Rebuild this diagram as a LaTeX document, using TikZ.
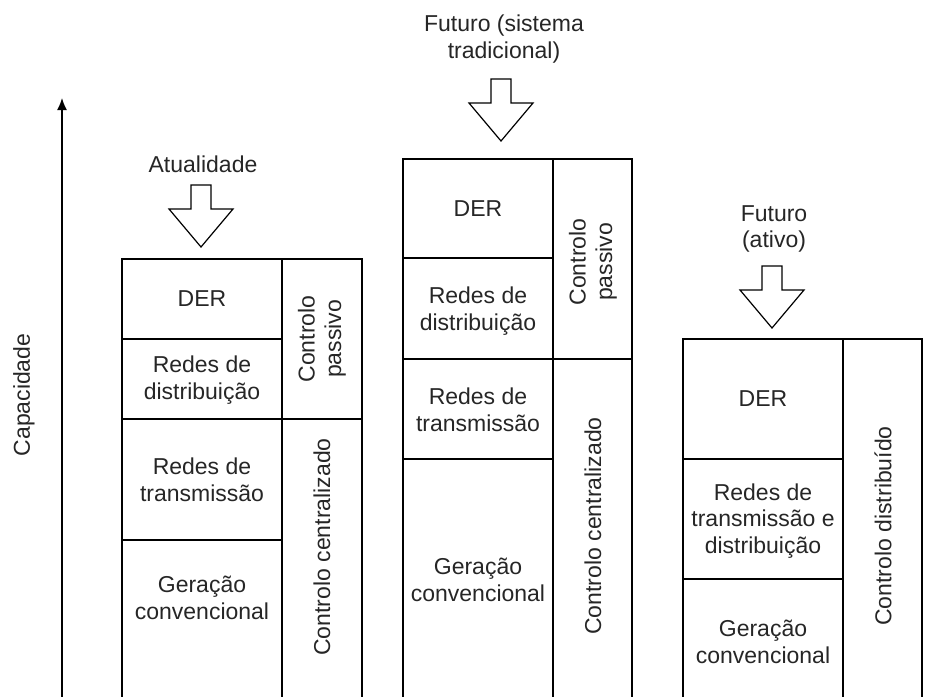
\documentclass[tikz,border=0pt]{standalone}
\usepackage{fontspec}
\setmainfont{Liberation Sans}
\usetikzlibrary{arrows.meta}

% hollow arrow pointing down: #1 = centre x, #2 = top y
\newcommand{\bigdown}[2]{%
	\draw[line width=1.2pt] (#1-10,#2) -- (#1+10,#2) -- (#1+10,#2+24) -- (#1+32,#2+24) -- (#1,#2+62) -- (#1-32,#2+24) -- (#1-10,#2+24) --cycle;}

\begin{document}
\begin{tikzpicture}[x=1pt, y=-1pt, line width=1.5pt,
	lbl/.style={align=center, font=\fontsize{23}{26.5}\selectfont, text=black!85, inner sep=0pt},
	vlbl/.style={lbl, rotate=90}]
		\useasboundingbox (0,0) rectangle (950,696);

		% axis
		\draw[-{Latex[length=12pt, width=10pt]}] (62,700) -- (62,98);
		\node[vlbl] (cap) at (24,395) {Capacidade};

		% Atualidade
		\node[lbl] (t1) at (203,164) {Atualidade};
		\bigdown{201}{185}
		\draw (122,259) rectangle (282,339);
		\draw (122,339) rectangle (282,419);
		\draw (122,419) rectangle (282,540);
		\draw (122,540) rectangle (282,700);
		\draw (282,259) rectangle (362,419);
		\draw (282,419) rectangle (362,700);
		\node[lbl] (der1) at (202,299) {DER};
		\node[lbl] (dist1) at (202,380) {Redes de\\distribuição};
		\node[lbl] (trans1) at (202,480) {Redes de\\transmissão};
		\node[lbl] (ger1) at (202,598) {Geração\\convencional};
		\node[vlbl] (pas1) at (322,339) {Controlo\\passivo};
		\node[vlbl] (cen1) at (322,547) {Controlo centralizado};

		% Futuro (sistema tradicional)
		\node[lbl] (t2) at (504,39) {Futuro (sistema\\tradicional)};
		\bigdown{501}{79}
		\draw (403,159) rectangle (553,258);
		\draw (403,258) rectangle (553,359);
		\draw (403,359) rectangle (553,459);
		\draw (403,459) rectangle (553,700);
		\draw (553,159) rectangle (632,359);
		\draw (553,359) rectangle (632,700);
		\node[lbl] (der2) at (478,209) {DER};
		\node[lbl] (dist2) at (478,311) {Redes de\\distribuição};
		\node[lbl] (trans2) at (478,410) {Redes de\\transmissão};
		\node[lbl] (ger2) at (478,580) {Geração\\convencional};
		\node[vlbl] (pas2) at (593,262) {Controlo\\passivo};
		\node[vlbl] (cen2) at (593,526) {Controlo centralizado};

		% Futuro (ativo)
		\node[lbl] (t3) at (774,229) {Futuro\\(ativo)};
		\bigdown{772}{266}
		\draw (683,339) rectangle (843,459);
		\draw (683,459) rectangle (843,579);
		\draw (683,579) rectangle (843,700);
		\draw (843,339) rectangle (922,700);
		\node[lbl] (der3) at (763,399) {DER};
		\node[lbl] (td3) at (763,521) {Redes de\\transmissão e\\distribuição};
		\node[lbl] (ger3) at (763,642) {Geração\\convencional};
		\node[vlbl] (dis3) at (883,526) {Controlo distribuído};
	\end{tikzpicture}
\end{document}
